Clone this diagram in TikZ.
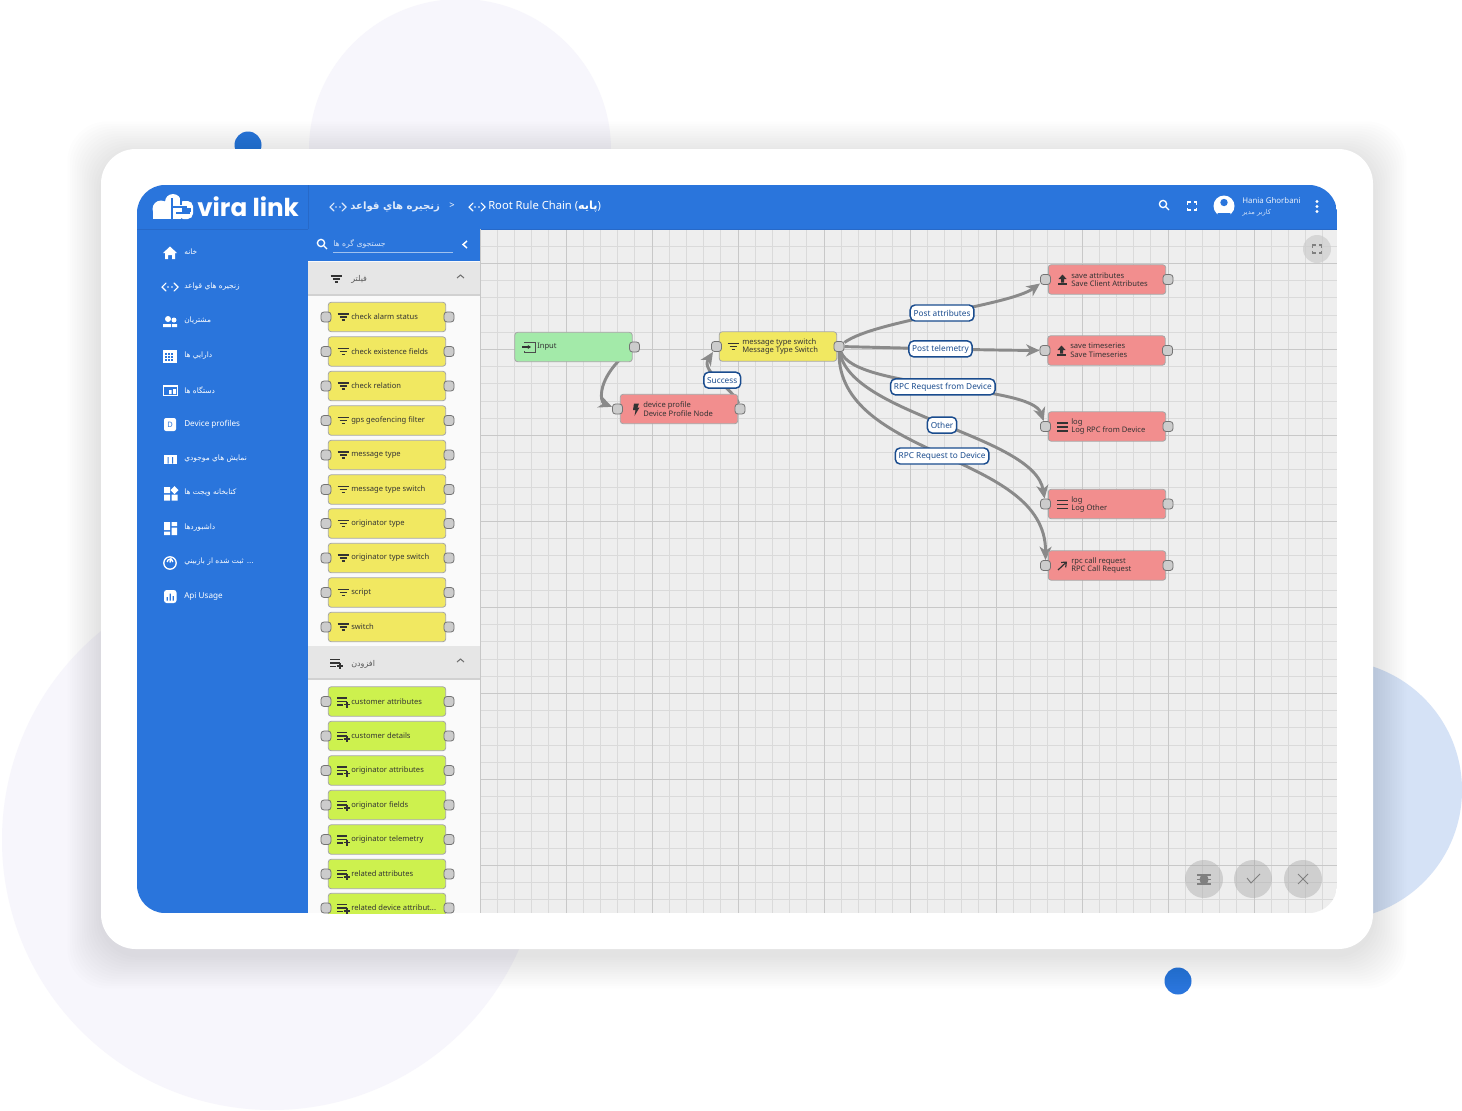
\documentclass[tikz,border=0pt]{standalone}
\usepackage{fontspec}
\setmainfont{Noto Sans}
\newfontfamily\arabicfont[Script=Arabic]{DejaVu Sans}
\newfontfamily\logofont{Poppins}
\TeXXeTstate=1
\usetikzlibrary{arrows.meta}
\pgfdeclarelayer{base}\pgfdeclarelayer{edgelayer}
\pgfsetlayers{base,edgelayer,main}
\definecolor{vblue}{HTML}{2A75DC}
\definecolor{vdark}{HTML}{2769C8}
\definecolor{vlav}{HTML}{F7F6FC}
\definecolor{vsky}{HTML}{D5E2F6}
\definecolor{vgrid}{HTML}{DADADA}
\definecolor{vmajor}{HTML}{C8C8C8}
\definecolor{vcanvas}{HTML}{EEEEEE}
\definecolor{vyellow}{HTML}{F1E861}
\definecolor{vlime}{HTML}{CDF14E}
\definecolor{vred}{HTML}{F28E8E}
\definecolor{vgreen}{HTML}{A3EAA9}
\definecolor{vport}{HTML}{CCCCCC}
\definecolor{vedge}{HTML}{8A8A8A}
\definecolor{vnavy}{HTML}{1A4C8E}
\definecolor{vink}{HTML}{333333}
\definecolor{vhead}{HTML}{E6E6E6}
\newcommand\fsnode{\fontsize{5.7}{7}\selectfont}
\newcommand\fsside{\fontsize{6}{8}\selectfont}
\newcommand\fslabel{\fontsize{6.2}{8}\selectfont\bfseries}
\tikzset{
 x=0.75pt,y=-0.75pt,
 portbox/.style={draw=black!55,fill=vport,line width=0.6pt,rounded corners=2.4pt,minimum size=7.6pt,inner sep=0pt},
 rulebox/.style={draw=black!35,line width=0.6pt,rounded corners=2pt,minimum width=88pt,minimum height=22pt,inner sep=0pt},
 nodetext/.style={anchor=west,inner sep=0pt,align=left,text=vink,font=\fsnode},
 sidetext/.style={anchor=west,inner sep=0pt,text=white,font=\fsside},
 edgeline/.style={draw=vedge,line width=2.2pt,-{Stealth[length=10pt,width=9pt,inset=3pt]}},
 edgelabel/.style={draw=vnavy,fill=white,line width=1.1pt,rounded corners=3.6pt,text=vnavy,font=\fslabel,inner xsep=2.5pt,inner ysep=0pt,minimum height=12pt},
 ikon/.style={line width=1pt,draw=vink},
 wikon/.style={fill=white,draw=none},
 roundbtn/.style={circle,fill=black!35,fill opacity=.42,draw=none,minimum size=28.5pt,inner sep=0pt}
}
% icons, drawn in reference pixels
\newcommand\vlfilter[3]{\draw[line width=.85pt,draw=#3] (#1-5.5,#2-3)--(#1+5.5,#2-3) (#1-3.5,#2)--(#1+3.5,#2) (#1-1.5,#2+3)--(#1+1.5,#2+3);}
\newcommand\vladd[3]{\draw[line width=.85pt,draw=#3] (#1-6,#2-3.5)--(#1+4,#2-3.5) (#1-6,#2)--(#1+4,#2) (#1-6,#2+3.5)--(#1,#2+3.5) (#1+1,#2+3)--(#1+7,#2+3) (#1+4,#2)--(#1+4,#2+6);}
\newcommand\vlchain[3]{\draw[line width=.8pt,draw=#3,line cap=round] (#1-4,#2-4)--(#1-8,#2)--(#1-4,#2+4) (#1+4,#2-4)--(#1+8,#2)--(#1+4,#2+4);\fill[#3] (#1-2,#2) circle (.8) (#1+2,#2) circle (.8);}
\newcommand\vlsearch[3]{\draw[line width=1pt,draw=#3] (#1-1,#2-1) circle (3.6) (#1+1.6,#2+1.6)--(#1+5,#2+5);}
\newcommand\vlfull[3]{\draw[line width=.9pt,draw=#3] (#1-4.5,#2-1.5)--(#1-4.5,#2-4)--(#1-1.5,#2-4) (#1+1.5,#2-4)--(#1+4.5,#2-4)--(#1+4.5,#2-1.5) (#1+4.5,#2+1.5)--(#1+4.5,#2+4)--(#1+1.5,#2+4) (#1-1.5,#2+4)--(#1-4.5,#2+4)--(#1-4.5,#2+1.5);}
\newcommand\vlrule[8]{% name x y fill line1 line2 portIn portOut
 \node[rulebox,fill=#4] (#1) at (#2,#3) {};
 \ifx&#7&\else\node[portbox] (#1-in) at (#2-61.5,#3) {};\fi
 \node[portbox] (#1-out) at (#2+61,#3) {};
}
\newcommand\vlpal[6]{% index y fill text iconcmd
 \node[rulebox,fill=#3] (#1-box) at (387,#2) {};
 \node[portbox] (#1-left) at (326,#2) {};
 \node[portbox] (#1-right) at (449,#2) {};
 #5{343}{#2}{vink}
 \node[nodetext] (#1-text) at (351,#2) {#4};
}
\begin{document}
\begin{tikzpicture}
\useasboundingbox (0,0) rectangle (1462,1110);
\begin{pgfonlayer}{base}
\fill[white] (0,0) rectangle (1462,1110);
% backdrop
\fill[vlav] (460,150) circle (151);
\fill[vlav] (272,840) circle (270);
\fill[vsky] (1332,790) circle (130);
\fill[vblue] (248,145) circle (13.5);
\fill[vblue] (1178,981) circle (13.5);
% card shadow
\foreach \s in {1,...,14}{
 \fill[black,opacity=.006,rounded corners=30pt] (101-2.4*\s,149-2.4*\s+6) rectangle (1373+2.4*\s,949+2.4*\s+6);
}
\fill[white,rounded corners=26pt] (101,149) rectangle (1373,949);
% application window
\begin{scope}
\clip[rounded corners=21pt] (137,185) rectangle (1337,913);
\fill[vcanvas] (137,185) rectangle (1337,913);
\foreach \k in {0,...,50}{\draw[vgrid,line width=.7pt] (480.0+17.2*\k,229) -- (480.0+17.2*\k,913);}
\foreach \k in {0,...,40}{\draw[vgrid,line width=.7pt] (480,229.0+17.2*\k) -- (1337,229.0+17.2*\k);}
\foreach \k in {0,...,10}{\draw[vmajor,line width=.8pt] (480.3+86*\k,229) -- (480.3+86*\k,913);}
\foreach \k in {0,...,8}{\draw[vmajor,line width=.8pt] (480,263.3+86*\k) -- (1337,263.3+86*\k);}
\fill[vblue] (137,185) rectangle (1337,229);
\fill[vblue] (137,229) rectangle (308,913);
\draw[vdark,line width=.5pt] (137,229)--(1337,229) (308,185)--(308,229);
\end{scope}
\end{pgfonlayer}

% ---------- palette ----------
\begin{scope}
\clip (308,229) rectangle (481,913);
\fill[white!98!black] (308,229) rectangle (480,913);
\draw[black!22,line width=.6pt] (480,229)--(480,913);
\fill[vblue] (308,229) rectangle (480,261);
\fill[vhead] (308,262) rectangle (480,295);
\draw[black!18,line width=.8pt] (308,295)--(480,295);
\fill[vhead] (308,646) rectangle (480,679);
\draw[black!18,line width=.8pt] (308,679)--(480,679);
\vlpal{fa}{317}{vyellow}{check alarm status}{\vlfilter}{}
\vlpal{fb}{351.5}{vyellow}{check existence fields}{\vlfilter}{}
\vlpal{fc}{386}{vyellow}{check relation}{\vlfilter}{}
\vlpal{fd}{420.5}{vyellow}{gps geofencing filter}{\vlfilter}{}
\vlpal{fe}{455}{vyellow}{message type}{\vlfilter}{}
\vlpal{ff}{489.5}{vyellow}{message type switch}{\vlfilter}{}
\vlpal{fg}{523.5}{vyellow}{originator type}{\vlfilter}{}
\vlpal{fh}{558}{vyellow}{originator type switch}{\vlfilter}{}
\vlpal{fi}{592.5}{vyellow}{script}{\vlfilter}{}
\vlpal{fj}{627}{vyellow}{switch}{\vlfilter}{}
\vlpal{ea}{701.5}{vlime}{customer attributes}{\vladd}{}
\vlpal{eb}{736}{vlime}{customer details}{\vladd}{}
\vlpal{ec}{770.5}{vlime}{originator attributes}{\vladd}{}
\vlpal{ed}{805}{vlime}{originator fields}{\vladd}{}
\vlpal{ee}{839.5}{vlime}{originator telemetry}{\vladd}{}
\vlpal{ef}{874}{vlime}{related attributes}{\vladd}{}
\vlpal{eg}{908}{vlime}{related device attribut...}{\vladd}{}
\end{scope}
% palette header content
\vlsearch{322}{244}{white}
\node[anchor=west,inner sep=0pt,text=white!80!vblue,font=\arabicfont\fontsize{5.8}{7}\selectfont] (searchtext) at (333,244) {\beginR جستجوی گره ها\endR};
\draw[white!55!vblue,line width=.6pt] (333,252.5)--(453,252.5);
\draw[white,line width=1.1pt] (467,241)--(463,244.5)--(467,248);
\vlfilter{336}{279}{vink}
\node[anchor=west,inner sep=0pt,text=black!65,font=\arabicfont\fontsize{6}{7}\selectfont] (filterhead) at (351,279) {\beginR فیلتر\endR};
\draw[black!55,line width=.8pt] (457,278)--(460.5,275)--(464,278);
\vladd{336}{663}{vink}
\node[anchor=west,inner sep=0pt,text=black!65,font=\arabicfont\fontsize{6}{7}\selectfont] (addhead) at (351,664) {\beginR افزودن\endR};
\draw[black!55,line width=.8pt] (457,662)--(460.5,659)--(464,662);

% ---------- top bar ----------
% logo
\fill[white] (161,209) circle (8.5);
\fill[white,rounded corners=6pt] (165,194) rectangle (181,219);
\fill[white] (153,210) rectangle (181,219);
\fill[white,rounded corners=4pt] (178,201) rectangle (193,219);
\draw[vblue,line width=.8pt] (172,198)--(172,219) (172,207)--(187,207) (176,213)--(190,213) (181,196)--(181,205);
\fill[vblue] (182,208) rectangle (191,212);
\node[anchor=west,inner sep=0pt,text=white,font=\logofont\bfseries\fontsize{18.5}{20}\selectfont] (logotext) at (197,207) {vira link};
\vlchain{338}{207}{white!85!vblue}
\node[anchor=west,inner sep=0pt,text=white!85!vblue,font=\arabicfont\fontsize{7.6}{9}\selectfont\bfseries] (crumbone) at (350,207) {\beginR زنجیره هاي قواعد\endR};
\node[inner sep=0pt,text=white,font=\fontsize{7}{9}\selectfont\bfseries] (crumbsep) at (452,206) {>};
\vlchain{477}{207}{white}
\node[anchor=west,inner sep=0pt,text=white,font=\fontsize{8.4}{10}\selectfont\bfseries] (crumbtwo) at (488,206.5) {Root Rule Chain ({\arabicfont\beginR پایه\endR})};
\vlsearch{1164}{205}{white}
\vlfull{1192}{206}{white}
\fill[white] (1224,206) circle (10.5);
\fill[vblue] (1224,202.5) circle (3.7);
\fill[vblue] (1217.5,213) arc (180:0:6.5 and 4.5) -- cycle;
\node[anchor=west,inner sep=0pt,text=white!90!vblue,font=\fontsize{5.9}{7}\selectfont] (username) at (1242,200.5) {Hania Ghorbani};
\node[anchor=west,inner sep=0pt,text=white!80!vblue,font=\arabicfont\fontsize{5}{6}\selectfont] (userrole) at (1242,213) {\beginR کاربر مدیر\endR};
\fill[white] (1317,201.5) circle (1.6) (1317,206.5) circle (1.6) (1317,211.5) circle (1.6);

% ---------- side menu ----------
\fill[white] (170,246.5)--(177,253)--(175,253)--(175,259)--(172,259)--(172,255)--(168,255)--(168,259)--(165,259)--(165,253)--(163,253)--cycle;
\node[sidetext,font=\arabicfont\fontsize{5.6}{7}\selectfont] (m1) at (184,252) {\beginR خانه\endR};
\vlchain{170}{287}{white}
\node[sidetext,font=\arabicfont\fontsize{5.6}{7}\selectfont] (m2) at (184,287) {\beginR زنجیره هاي قواعد\endR};
\fill[white] (168,319) circle (3) (174,320) circle (2.5);
\fill[white] (163,327) rectangle (171,324) (172,327) rectangle (177,324);
\node[sidetext,font=\arabicfont\fontsize{5.6}{7}\selectfont] (m3) at (184,321) {\beginR مشتریان\endR};
\fill[white] (163,350) rectangle (177,363);
\foreach \a in {165,168,171}{\foreach \b in {353,356,359}{\fill[vblue] (\a,\b) rectangle ++(1.5,1.5);}}
\node[sidetext,font=\arabicfont\fontsize{5.6}{7}\selectfont] (m4) at (184,356) {\beginR دارایي ها\endR};
\draw[white,line width=.9pt] (163.5,386)--(177.5,386)--(177.5,395.5)--(163.5,395.5)--cycle;
\fill[white] (169,390) rectangle (171.5,394) (173,389) rectangle (176,394);
\node[sidetext,font=\arabicfont\fontsize{5.6}{7}\selectfont] (m5) at (184,390) {\beginR دستگاه ها\endR};
\fill[white,rounded corners=1.5pt] (164,418) rectangle (176,431);
\node[inner sep=0pt,text=vblue,font=\fontsize{5.6}{7}\selectfont\bfseries] (m6i) at (170,424.5) {D};
\node[sidetext,font=\fontsize{6.1}{8}\selectfont\bfseries] (m6) at (184,424) {Device profiles};
\fill[white] (164,455) rectangle (177,463.5);
\fill[vblue] (167.5,457) rectangle (168.5,463.5) (172,457) rectangle (173,463.5);
\node[sidetext,font=\arabicfont\fontsize{5.6}{7}\selectfont] (m7) at (184,459) {\beginR نمایش هاي موجودي\endR};
\fill[white] (164,487) rectangle (170,493) (164,494.5) rectangle (170,500.5) (171.5,494.5) rectangle (177.5,500.5);
\fill[white] (174.5,486)--(178.5,490)--(174.5,494)--(170.5,490)--cycle;
\node[sidetext,font=\arabicfont\fontsize{5.6}{7}\selectfont] (m8) at (184,493) {\beginR کتابخانه ویجت ها\endR};
\fill[white] (164,522) rectangle (170,530) (171.5,522) rectangle (177,526) (164,531.5) rectangle (170,535) (171.5,527.5) rectangle (177,535);
\node[sidetext,font=\arabicfont\fontsize{5.6}{7}\selectfont] (m9) at (184,528) {\beginR داشبوردها\endR};
\draw[white,line width=1pt] (170,563) circle (6.2);
\draw[white,line width=1pt] (167.2,562) arc (180:360:2.8) (170,562.5)--(171,558);
\node[sidetext,font=\arabicfont\fontsize{5.6}{7}\selectfont] (m10) at (184,562) {\beginR ... ثبت شده از بازبیني\endR};
\fill[white,rounded corners=2pt] (164,590) rectangle (176.5,603);
\fill[vblue] (166.5,597) rectangle (167.8,600.5) (169.5,593.5) rectangle (170.8,600.5) (172.5,596) rectangle (173.8,600.5);
\node[sidetext,font=\fontsize{6.1}{8}\selectfont\bfseries] (m11) at (184,596) {Api Usage};

% ---------- rule nodes ----------
\vlrule{input}{573.5}{347}{vgreen}{}{}{}{}
\vlrule{dp}{679}{409}{vred}{}{}{x}{}
\vlrule{mts}{778}{346.5}{vyellow}{}{}{x}{}
\vlrule{sa}{1107}{279.5}{vred}{}{}{x}{}
\vlrule{st}{1106.5}{350.5}{vred}{}{}{x}{}
\vlrule{lr}{1107}{426.5}{vred}{}{}{x}{}
\vlrule{lo}{1107}{504}{vred}{}{}{x}{}
\vlrule{rc}{1107}{565.5}{vred}{}{}{x}{}
% input text and icon
\draw[black!70,line width=.7pt] (524,343)--(524,342)--(535,342)--(535,352)--(524,352)--(524,351);
\draw[black!80,line width=.8pt,-{Stealth[length=2.5pt,width=3pt]}] (522,347)--(531,347);
\node[nodetext] (input-text) at (537,347) {Input};
\fill[vink] (634,403.5)--(639,403.5)--(637.5,407.5)--(639.5,407.5)--(634.5,416)--(635.5,410)--(633,410)--cycle;
\node[nodetext] (dp-text) at (643,409) {device profile\\[-.5pt]\textbf{Device Profile Node}};
\vlfilter{733}{346.5}{vink}
\node[nodetext] (mts-text) at (742,346.5) {message type switch\\[-.5pt]\textbf{Message Type Switch}};
\draw[vink,line width=.9pt] (1058,284)--(1067,284);
\fill[vink] (1062.5,274.5)--(1066.5,279)--(1064,279)--(1064,282.5)--(1061,282.5)--(1061,279)--(1058.5,279)--cycle;
\node[nodetext] (sa-text) at (1071,279.5) {save attributes\\[-.5pt]Save Client Attributes};
\draw[vink,line width=.9pt] (1057,355)--(1066,355);
\fill[vink] (1061.5,345.5)--(1065.5,350)--(1063,350)--(1063,353.5)--(1060,353.5)--(1060,350)--(1057.5,350)--cycle;
\node[nodetext] (st-text) at (1070,350.5) {save timeseries\\[-.5pt]Save Timeseries};
\draw[vink,line width=.9pt] (1057,423)--(1068,423) (1057,427)--(1068,427) (1057,431)--(1068,431);
\node[nodetext] (lr-text) at (1071,426.5) {log\\[-.5pt]Log RPC from Device};
\draw[vink,line width=.9pt] (1057,500.5)--(1068,500.5) (1057,504.5)--(1068,504.5) (1057,508.5)--(1068,508.5);
\node[nodetext] (lo-text) at (1071,504.5) {log\\[-.5pt]Log Other};
\draw[vink,line width=.9pt,-{Straight Barb[length=3pt,width=5pt]}] (1058,570)--(1067,561.5);
\node[nodetext] (rc-text) at (1071,565.5) {rpc call request\\[-.5pt]RPC Call Request};

% ---------- connectors ----------
\begin{pgfonlayer}{edgelayer}
\draw[edgeline] (input-out) .. controls (596,378) and (600,402) .. (dp-in);
\draw[edgeline] (dp-out) .. controls (735,390) and (700,372) .. node[pos=.5,edgelabel,xshift=2pt] (lblsuccess) {Success} (mts-in);
\draw[edgeline] (mts-out) .. controls (875,320) and (1009,306) .. node[pos=.5,edgelabel] (lblattr) {Post attributes} (sa-in);
\draw[edgeline] (mts-out) .. controls (905,348) and (975,350) .. node[pos=.5,edgelabel] (lbltele) {Post telemetry} (st-in);
\draw[edgeline] (mts-out) .. controls (855,390) and (1031,384) .. node[pos=.5,edgelabel] (lblfrom) {RPC Request from Device} (lr-in);
\draw[edgeline] (mts-out) .. controls (850,415) and (1034,435) .. node[pos=.5,edgelabel] (lblother) {Other} (lo-in);
\draw[edgeline] (mts-out) .. controls (838,460) and (1046,452) .. node[pos=.5,edgelabel] (lblto) {RPC Request to Device} (rc-in);
\end{pgfonlayer}

% ---------- canvas buttons ----------
\node[circle,fill=black!20,fill opacity=.7,minimum size=21pt,inner sep=0pt] (btnfull) at (1317,249) {};
\vlfull{1317}{249}{black!50}
\node[roundbtn] (btnbug) at (1204,879) {};
\fill[black!50] (1204,879.5) ellipse (4.5 and 5.5);
\draw[black!50,line width=.8pt] (1197,875)--(1211,875) (1197,879.5)--(1211,879.5) (1197,884)--(1211,884);
\node[roundbtn] (btncheck) at (1253,879) {};
\draw[black!50,line width=.7pt] (1247,878)--(1251,883)--(1260,874);
\node[roundbtn] (btnclose) at (1303,879) {};
\draw[black!50,line width=.7pt] (1298,874)--(1308,884) (1298,884)--(1308,874);
\end{tikzpicture}
\end{document}
